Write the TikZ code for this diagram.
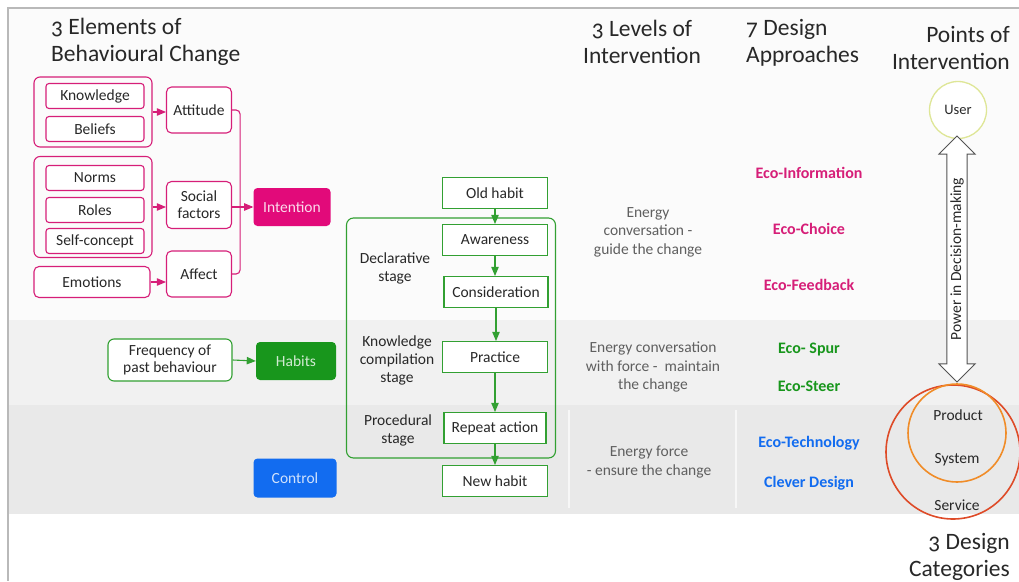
\documentclass[tikz,border=0pt]{standalone}
\usepackage{fontspec}
\setmainfont{Carlito}[Numbers=OldStyle]
\usepackage{tikz}
\usetikzlibrary{arrows,shapes,shapes.arrows,positioning}
\definecolor{pinkc}{RGB}{214,30,120}
\definecolor{pinkf}{RGB}{226,10,122}
\definecolor{greenc}{RGB}{50,160,50}
\definecolor{greenf}{RGB}{24,150,28}
\definecolor{bluef}{RGB}{18,108,240}
\definecolor{txtc}{RGB}{40,40,40}
\definecolor{midc}{RGB}{95,95,95}
\definecolor{userc}{RGB}{222,230,150}
\definecolor{sysc}{RGB}{240,140,40}
\definecolor{svcc}{RGB}{222,75,40}
\tikzstyle{pbox}=[draw=pinkc,line width=1.1pt,rounded corners=3pt,fill=white,text=txtc,align=center,inner sep=1pt,font=\fontsize{15.5}{17}\selectfont]
\tikzstyle{pgroup}=[draw=pinkc,line width=1.1pt,rounded corners=6pt,inner sep=0pt]
\tikzstyle{gbox}=[draw=greenc,line width=1.1pt,fill=white,text=txtc,align=center,inner sep=1pt,font=\fontsize{15.5}{17}\selectfont]
\tikzstyle{ggroup}=[draw=greenc,line width=1.1pt,rounded corners=7pt,inner sep=0pt]
\tikzstyle{filled}=[rounded corners=4pt,inner sep=1pt,font=\fontsize{15.5}{17}\selectfont,minimum width=80,minimum height=38]
\tikzstyle{lbl}=[text=txtc,align=center,inner sep=0pt,font=\fontsize{15.5}{18}\selectfont]
\tikzstyle{mid}=[text=midc,align=center,inner sep=0pt,font=\fontsize{15.5}{18.5}\selectfont]
\tikzstyle{appr}=[inner sep=0pt,font=\fontsize{16}{18}\selectfont\bfseries]
\tikzstyle{head}=[text=txtc,inner sep=0pt,font=\fontsize{23.5}{27}\selectfont]

\begin{document}
\begin{tikzpicture}[x=1pt,y=-1pt]

  \useasboundingbox (0,0) rectangle (1019,581);
  \fill[gray!3] (9,9) rectangle (1019,320);
  \fill[gray!11] (9,320) rectangle (1019,405);
  \fill[gray!17] (9,405) rectangle (1019,514);
  \draw[gray!6,line width=2pt] (569,410) -- (569,508);
  \draw[gray!6,line width=2pt] (736,410) -- (736,508);
  \draw[gray!55,line width=1.5pt] (1019,8) -- (8,8) -- (8,581);

  \node[head,anchor=north west,align=left] (t1) at (51,18) {3 Elements of\\Behavioural Change};
  \node[head,align=center] (t2) at (642,42) {3 Levels of\\Intervention};
  \node[head,anchor=north west,align=left] (t3) at (746,19) {7 Design\\Approaches};
  \node[head,anchor=north east,align=right] (t4) at (1010,26) {Points of\\Intervention};
  \node[head,anchor=north east,align=right] (t5) at (1010,533) {3 Design\\Categories};

  % elements of behavioural change
  \node[pgroup,minimum width=118,minimum height=70] (gA) at (93,112) {};
  \node[pbox,minimum width=98,minimum height=25] (know) at (95,96) {Knowledge};
  \node[pbox,minimum width=98,minimum height=25] (bel) at (95,129) {Beliefs};
  \node[pgroup,minimum width=118,minimum height=101] (gB) at (93,207) {};
  \node[pbox,minimum width=98,minimum height=25] (norm) at (95,178) {Norms};
  \node[pbox,minimum width=98,minimum height=25] (role) at (95,210) {Roles};
  \node[pbox,minimum width=98,minimum height=25] (self) at (95,241) {Self-concept};
  \node[pbox,minimum width=116,minimum height=31,rounded corners=5pt] (emo) at (92,282) {Emotions};
  \node[pbox,minimum width=65,minimum height=46,rounded corners=5pt] (att) at (199,110) {Attitude};
  \node[pbox,minimum width=65,minimum height=47,rounded corners=5pt] (soc) at (199,205) {Social\\factors};
  \node[pbox,minimum width=65,minimum height=46,rounded corners=5pt] (aff) at (199,274) {Affect};
  \node[filled,fill=pinkf,text=white!85!pinkf,minimum width=77] (int) at (292,207) {Intention};

  \draw[pinkc,line width=1.1pt,->,>=triangle 45] (gA.east) -- (gA.east -| att.west);
  \draw[pinkc,line width=1.1pt,->,>=triangle 45] (gB.east) -- (gB.east -| soc.west);
  \draw[pinkc,line width=1.1pt,->,>=triangle 45] (emo.east) -- (emo.east -| aff.west);
  \draw[pinkc,line width=1.1pt,rounded corners=4pt] (att.east) -- ++(8,0) |- (aff.east);
  \draw[pinkc,line width=1.1pt,->,>=triangle 45] (soc.east |- int.west) -- (int.west);

  % habits and control
  \node[pbox,draw=greenc,minimum width=124,minimum height=42,rounded corners=6pt] (freq) at (170,360) {Frequency of\\past behaviour};
  \node[filled,fill=greenf,text=white!80!greenf] (hab) at (296,361) {Habits};
  \node[filled,fill=bluef,text=white!80!bluef,minimum width=83,minimum height=39] (ctrl) at (295,478) {Control};
  \draw[greenc,line width=1.1pt,->,>=triangle 45] (freq.east) -- (hab.west);

  % habit forming process
  \node[ggroup,minimum width=209,minimum height=240] (proc) at (451,338) {};
  \node[gbox,minimum width=105,minimum height=31] (old) at (495,193) {Old habit};
  \node[gbox,minimum width=105,minimum height=31] (aware) at (495,240) {Awareness};
  \node[gbox,minimum width=104,minimum height=31] (cons) at (496,292) {Consideration};
  \node[gbox,minimum width=105,minimum height=31] (prac) at (495,357) {Practice};
  \node[gbox,minimum width=102,minimum height=31] (rep) at (495,428) {Repeat action};
  \node[gbox,minimum width=105,minimum height=31] (new) at (495,481) {New habit};
  \node[lbl] (decl) at (395,268) {Declarative\\stage};
  \node[lbl] (comp) at (397,360) {Knowledge\\compilation\\stage};
  \node[lbl] (proced) at (398,430) {Procedural\\stage};

  \draw[greenc,line width=1.1pt,->,>=triangle 45] (old) -- (aware);
  \draw[greenc,line width=1.1pt,->,>=triangle 45] (aware) -- (aware.south |- cons.north);
  \draw[greenc,line width=1.1pt,->,>=triangle 45] (cons) -- (cons.south |- prac.north);
  \draw[greenc,line width=1.1pt,->,>=triangle 45] (prac) -- (rep);
  \draw[greenc,line width=1.1pt,->,>=triangle 45] (rep) -- (new);

  % levels of intervention
  \node[mid] (lev1) at (648,232) {Energy\\conversation -\\guide the change};
  \node[mid] (lev2) at (653,367) {Energy conversation\\with force -\ \ maintain\\the change};
  \node[mid] (lev3) at (649,462) {Energy force\\- ensure the change};

  % design approaches
  \node[appr,text=pinkc] (a1) at (809,173) {Eco-Information};
  \node[appr,text=pinkc] (a2) at (809,229) {Eco-Choice};
  \node[appr,text=pinkc] (a3) at (809,285) {Eco-Feedback};
  \node[appr,text=greenf] (a4) at (809,350) {Eco- Spur};
  \node[appr,text=greenf] (a5) at (809,386) {Eco-Steer};
  \node[appr,text=bluef] (a6) at (809,443) {Eco-Technology};
  \node[appr,text=bluef] (a7) at (809,483) {Clever Design};

  % points of intervention
  \node[circle,draw=userc,line width=1.3pt,fill=white,minimum size=57,text=txtc,font=\fontsize{14.5}{16}\selectfont] (user) at (958,110) {User};
  \node[double arrow,draw=gray!65!black,fill=white,line width=0.9pt,rotate=90,minimum height=246,double arrow head extend=8,inner xsep=4pt,inner ysep=3pt,text=txtc,font=\fontsize{15.5}{17}\selectfont] (pow) at (957,259) {Power in Decision-making};
  \node[circle,draw=svcc,line width=1.6pt,minimum size=134] (cat) at (953,452) {};
  \node[circle,draw=sysc,line width=1.6pt,minimum size=98] (sys) at (957,433) {};
  \node[lbl] (prod) at (958,415) {Product};
  \node[lbl] (syst) at (957,460) {System};
  \node[lbl] (serv) at (957,505) {Service};

\end{tikzpicture}
\end{document}
